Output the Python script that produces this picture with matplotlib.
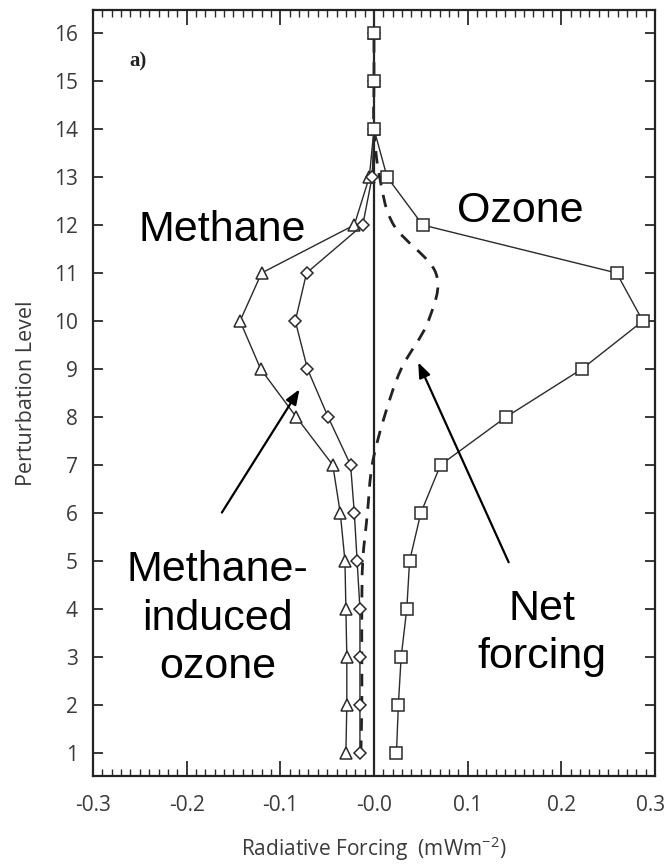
import matplotlib
matplotlib.use("Agg")
import matplotlib.pyplot as plt
from matplotlib.ticker import MultipleLocator, FixedLocator
from matplotlib.path import Path
from matplotlib.patches import PathPatch

plt.rcParams["font.family"] = ["Open Sans", "DejaVu Sans"]
plt.rcParams["mathtext.fontset"] = "custom"
plt.rcParams["mathtext.rm"] = "Open Sans"

levels = [1, 2, 3, 4, 5, 6, 7, 8, 9, 10, 11, 12, 13, 14, 15, 16]
ozone = [0.024, 0.026, 0.029, 0.035, 0.038, 0.050, 0.071, 0.141, 0.222, 0.287,
         0.259, 0.052, 0.014, 0.0, 0.0, 0.0]
methane = [-0.030, -0.029, -0.029, -0.030, -0.031, -0.036, -0.044, -0.083, -0.121,
           -0.143, -0.120, -0.021, -0.005, 0.0, 0.0, 0.0]
ch4_ozone = [-0.015, -0.015, -0.015, -0.015, -0.018, -0.021, -0.025, -0.049, -0.071,
             -0.084, -0.072, -0.012, -0.002, 0.0, 0.0, 0.0]
net = [-0.014, -0.013, -0.013, -0.013, -0.012, -0.007, -0.002, 0.011, 0.029, 0.058,
       0.066, 0.021, 0.006, 0.0, 0.0, 0.0]

xticks = [-0.3, -0.2, -0.1, 0.0, 0.1, 0.2, 0.3]
xticklabels = ["-0.3", "-0.2", "-0.1", "-0.0", "0.1", "0.2", "0.3"]

fig = plt.figure(figsize=(6.66, 8.66), dpi=100)
ax = fig.add_axes([0.1396, 0.1039, 0.8439, 0.8846])

lc = "#2a2a2a"
tc = "#3a3a3a"
ax.axvline(0, color="#222222", lw=1.6, zorder=1)

# smooth (Catmull-Rom rendered as Bezier) dashed net-forcing curve through the read values
pts = list(zip(net, levels))
verts = [pts[0]]
codes = [Path.MOVETO]
for i in range(len(pts) - 1):
    p0 = pts[i - 1] if i > 0 else pts[i]
    p1 = pts[i]
    p2 = pts[i + 1]
    p3 = pts[i + 2] if i + 2 < len(pts) else pts[i + 1]
    c1 = (p1[0] + (p2[0] - p0[0]) / 6.0, p1[1] + (p2[1] - p0[1]) / 6.0)
    c2 = (p2[0] - (p3[0] - p1[0]) / 6.0, p2[1] - (p3[1] - p1[1]) / 6.0)
    verts += [c1, c2, p2]
    codes += [Path.CURVE4, Path.CURVE4, Path.CURVE4]
ax.add_patch(PathPatch(Path(verts, codes), fill=False, edgecolor="#222222", lw=2.0,
                       ls=(0, (4.5, 3.5)), zorder=2, transform=ax.transData))

ax.plot(methane, levels, color=lc, lw=1.0, marker="^", ms=9, mfc="white",
        mec=lc, mew=1.1, zorder=3)
ax.plot(ch4_ozone, levels, color=lc, lw=1.0, marker="D", ms=6.5, mfc="white",
        mec=lc, mew=1.1, zorder=3)
ax.plot(ozone, levels, color=lc, lw=1.0, marker="s", ms=9, mfc="white",
        mec=lc, mew=1.1, zorder=3)

ax.set_xlim(-0.3, 0.3)
ax.set_ylim(0.52, 16.48)
ax.xaxis.set_major_locator(FixedLocator(xticks))
# last label drawn separately so it stays inside the figure
ax.set_xticklabels(xticklabels[:-1] + [""])
ax.xaxis.set_minor_locator(MultipleLocator(0.01))
ax.yaxis.set_major_locator(FixedLocator(levels))
ax.set_yticklabels([str(v) for v in levels])

ax.tick_params(axis="x", which="major", direction="in", length=11, width=1.3,
               top=True, bottom=True, pad=14, colors="#2a2a2a", labelcolor=tc,
               labelsize=15)
ax.tick_params(axis="x", which="minor", direction="in", length=5, width=1.0,
               top=True, bottom=True, colors="#2a2a2a")
ax.tick_params(axis="y", which="major", direction="in", length=7, width=1.3,
               left=True, right=True, pad=11, colors="#2a2a2a", labelcolor=tc,
               labelsize=15)
ax.annotate(xticklabels[-1], xy=(xticks[-1], 0), xycoords=("data", "axes fraction"),
            xytext=(-3, -14), textcoords="offset points", ha="center", va="top",
            fontsize=15, color=tc, annotation_clip=False)
for s in ax.spines.values():
    s.set_linewidth(1.6)
    s.set_color("#222222")

ax.set_ylabel("Perturbation Level", size=15.5, color=tc, labelpad=12)
ax.set_xlabel("Radiative Forcing  (mWm$^{\\mathrm{-2}}$)", size=15, color=tc, labelpad=13)

ax.text(-0.252, 15.4, "a)", family=["Liberation Serif"], weight="bold", size=15,
        ha="center", va="center", color="#222222")

ann = dict(family=["Liberation Sans"], size=31, color="black", ha="center")
ax.text(-0.162, 11.67, "Methane", va="baseline", **ann)
ax.text(0.156, 12.06, "Ozone", va="baseline", **ann)
ax.text(-0.167, 2.56, "Methane-\ninduced\nozone", va="baseline", linespacing=1.27, **ann)
ax.text(0.179, 2.77, "Net\nforcing", va="baseline", linespacing=1.25, **ann)

arrow = dict(arrowstyle="-|>,head_length=0.9,head_width=0.35", color="black", lw=1.6)
ax.annotate("", xy=(-0.078, 8.625), xytext=(-0.164, 5.96), arrowprops=arrow)
ax.annotate("", xy=(0.046, 9.19), xytext=(0.145, 4.92), arrowprops=arrow)

fig.savefig("out.png", dpi=100)
